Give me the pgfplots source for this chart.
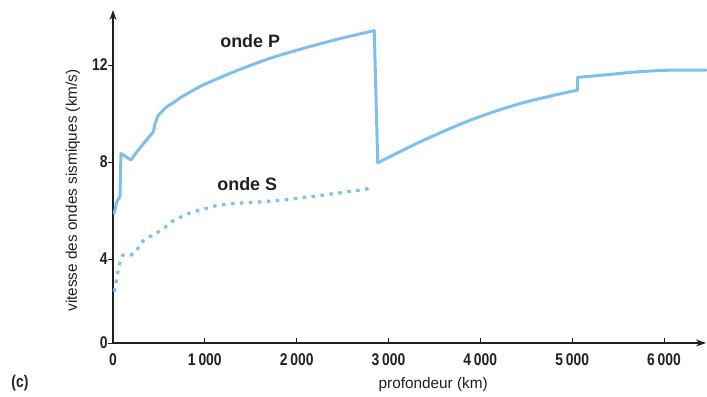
\documentclass[border=0pt]{standalone}
\usepackage{pgfplots}
\pgfplotsset{compat=1.18}
\usetikzlibrary{arrows.meta}
\usepackage{fontspec}
\setmainfont{Liberation Sans}
\newfontfamily\tickfont[FakeStretch=0.82]{Liberation Sans}
\definecolor{pblue}{RGB}{125,192,236}
\definecolor{txt}{RGB}{35,31,32}

% onde P, first part (crust and upper mantle, sharp steps)
\pgfplotstableread{
x y
14 5.88
40 6.36
76 6.57
87 8.35
196 8.08
259 8.42
349 8.84
440 9.25
458 9.60
494 9.94
586 10.28
676 10.49
731 10.65
}\ondePa
% onde P, lower mantle
\pgfplotstableread{
x y
731 10.65
985 11.18
1349 11.77
1713 12.28
2076 12.69
2440 13.06
2845 13.42
}\ondePb
% onde P, drop at the core-mantle boundary
\pgfplotstableread{
x y
2845 13.42
2883 7.97
}\ondePc
% onde P, outer core
\pgfplotstableread{
x y
2883 7.97
3349 8.84
3894 9.73
4440 10.42
5058 10.97
}\ondePd
% onde P, inner core boundary step
\pgfplotstableread{
x y
5058 10.97
5058 11.49
}\ondePe
% onde P, inner core
\pgfplotstableread{
x y
5058 11.49
5349 11.59
5713 11.72
6076 11.79
6458 11.79
}\ondePf

\pgfplotstableread{
x y
14 2.44
33 2.84
51 3.32
69 3.75
106 4.16
193 4.16
259 4.34
302 4.67
385 4.89
477 5.08
560 5.29
640 5.54
731 5.72
821 5.88
920 5.99
1022 6.09
1120 6.20
1222 6.25
1331 6.29
1429 6.32
1530 6.34
1633 6.36
1738 6.40
1840 6.43
1942 6.47
2048 6.53
2149 6.57
2247 6.61
2349 6.67
2447 6.71
2556 6.78
2651 6.82
2749 6.88
2822 6.94
}\ondeS

\begin{document}
\begin{tikzpicture}[x=1bp,y=1bp]
\useasboundingbox (-113,-53) rectangle (594,343);
\begin{axis}[
  scale only axis, width=593bp, height=333bp,
  xmin=0, xmax=6458, ymin=0, ymax=14.27,
  axis lines=left,
  axis line style={line width=1.1bp, txt, -{Stealth[length=10bp,width=7bp]}},
  y coord trafo/.code={\pgfmathparse{#1<4 ? 21*#1 : 84+24.25*(#1-4)}},
  y coord inv trafo/.code={\pgfmathparse{#1<84 ? #1/21 : 4+(#1-84)/24.25}},
  xtick={0,1000,2000,3000,4000,5000,6000},
  xticklabels={0,1\,000,2\,000,3\,000,4\,000,5\,000,6\,000},
  ytick={0,4,8,12}, yticklabels={0,4,8,12},
  tick label style={font=\tickfont\fontsize{17}{18}\selectfont\bfseries, text=txt},
  tick style={txt, line width=0.8bp},
  major tick length=5bp,
  tick align=outside,
  x tick style={yshift=5bp},
  xticklabel style={yshift=-2bp},
  yticklabel style={xshift=3bp},
  xlabel={profondeur (km)},
  ylabel={vitesse des ondes sismiques (km/s)},
  label style={font=\fontsize{15.4}{17}\selectfont, text=txt},
  xlabel style={at={(axis description cs:0.54,-0.125)}, anchor=center},
  ylabel style={at={(axis description cs:-0.0675,0.458)}, anchor=center},
  clip=false,
]
\addplot[pblue, line width=3bp, line join=round, line cap=round] table[x=x,y=y] {\ondePa};
\addplot[pblue, line width=3bp, line join=round, line cap=round, smooth, tension=0.5] table[x=x,y=y] {\ondePb};
\addplot[pblue, line width=3bp, line join=round, line cap=round] table[x=x,y=y] {\ondePc};
\addplot[pblue, line width=3bp, line join=round, line cap=round, smooth, tension=0.5] table[x=x,y=y] {\ondePd};
\addplot[pblue, line width=3bp, line join=round, line cap=round] table[x=x,y=y] {\ondePe};
\addplot[pblue, line width=3bp, line join=round, line cap=round, smooth, tension=0.5] table[x=x,y=y] {\ondePf};
\addplot[pblue, line width=3.2bp, line cap=butt, dash pattern=on 3.5bp off 5.5bp] table[x=x,y=y] {\ondeS};
\node[font=\fontsize{18}{20}\selectfont\bfseries, text=txt] at (axis cs:1494,13.0) {onde P};
\node[font=\fontsize{18}{20}\selectfont\bfseries, text=txt] at (axis cs:1462,7.1) {onde S};
\node[font=\tickfont\fontsize{17}{18}\selectfont\bfseries, text=txt] at (axis description cs:-0.157,-0.12) {(c)};
\end{axis}
\end{tikzpicture}
\end{document}
